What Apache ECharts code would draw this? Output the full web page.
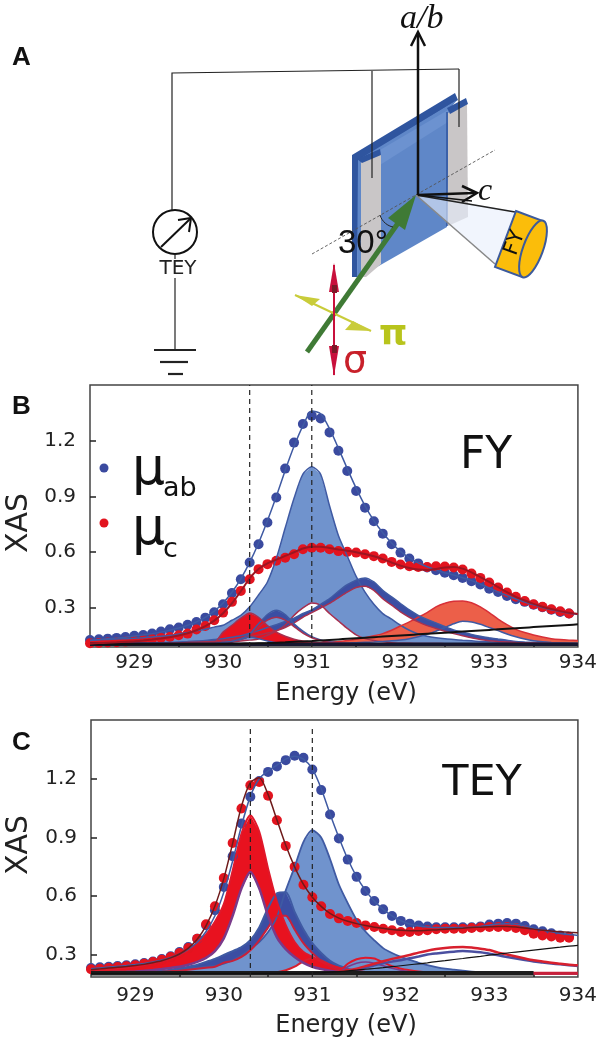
<!DOCTYPE html>
<html>
<head>
<meta charset="utf-8">
<title>XAS</title>
<script src="https://cdn.jsdelivr.net/npm/echarts@6/dist/echarts.min.js"></script>
<style>
html,body{margin:0;padding:0;background:#fff;}
#chart{width:600px;height:1042px;}
</style>
</head>
<body>
<div id="chart"></div>
<script>
var energy = [
928.5,928.6,928.7,928.8,928.9,
929.0,929.1,929.2,929.3,929.4,929.5,929.6,929.7,929.8,929.9,
930.0,930.1,930.2,930.3,930.4,930.5,930.6,930.7,930.8,930.9,
931.0,931.1,931.2,931.3,931.4,931.5,931.6,931.7,931.8,931.9,
932.0,932.1,932.2,932.3,932.4,932.5,932.6,932.7,932.8,932.9,
933.0,933.1,933.2,933.3,933.4,933.5,933.6,933.7,933.8,933.9,934.0];
var xLabels = [929,930,931,932,933,934];
var xMinor = [929.5,930.5,931.5,932.5,933.5];
var yLabels = [0.3,0.6,0.9,1.2];
var vDash = [930.3,931.0];

// FY panel
var fyAb = [
.128,.132,.135,.139,.144,
.15,.155,.162,.173,.185,.195,.21,.225,.248,.277,
.32,.38,.455,.545,.643,.76,.895,1.05,1.19,1.29,
1.335,1.32,1.245,1.146,1.037,.93,.84,.767,.70,.643,
.598,.566,.54,.518,.503,.49,.476,.462,.444,.426,
.404,.386,.365,.347,.333,.318,.304,.29,.279,.27];
var fyC = [
.11,.112,.114,.116,.119,
.122,.126,.132,.139,.144,.153,.162,.184,.203,.234,
.275,.333,.392,.455,.509,.536,.554,.57,.589,.616,
.624,.624,.616,.606,.602,.598,.589,.579,.566,.548,
.534,.525,.521,.521,.525,.523,.518,.507,.485,.462,
.437,.41,.383,.36,.338,.32,.306,.293,.282,.27];
var fyAbFit = [
.125,.13,.134,.138,.143,
.149,.155,.162,.17,.18,.192,.207,.225,.25,.283,
.327,.385,.457,.545,.65,.77,.90,1.04,1.17,1.28,
1.36,1.345,1.265,1.16,1.05,.945,.85,.77,.705,.65,
.605,.57,.543,.522,.505,.49,.477,.463,.447,.428,
.408,.387,.367,.348,.332,.317,.303,.291,.281,.272,.265];
var fyCFit = [
.108,.111,.113,.115,.118,
.121,.125,.13,.136,.143,.152,.164,.18,.202,.232,
.272,.325,.39,.46,.51,.54,.56,.58,.60,.62,
.63,.63,.623,.615,.608,.60,.59,.578,.563,.545,
.528,.515,.507,.505,.51,.518,.52,.512,.492,.466,
.44,.412,.385,.36,.34,.322,.307,.294,.283,.274,.268];
var fyP931Up = [
.127,.129,.131,.133,.135,
.137,.14,.144,.148,.152,.16,.168,.177,.186,.197,
.207,.234,.26,.306,.37,.44,.566,.73,.89,1.02,
1.06,1.02,.85,.69,.58,.47,.385,.32,.27,.24,
.207,.18,.16,.148,.14,.134,.13,.126,.123,.12,
.118,.116,.114,.113,.112,.111,.11,.109,.109,.108,.108];
var fyP931Lo = [
.105,.105,.105,.106,.106,
.106,.106,.107,.107,.107,.108,.108,.11,.11,.112,
.114,.118,.122,.127,.133,.153,.175,.207,.26,.30,
.327,.315,.27,.23,.19,.155,.135,.125,.118,.113,
.11,.11,.109,.109,.109,.108,.108,.108,.108,.108,
.107,.107,.107,.107,.107,.107,.106,.106,.106,.106,.106];
var fyP9303Up = [
.103,.103,.104,.104,.104,
.105,.105,.105,.106,.106,.107,.108,.109,.11,.113,
.17,.207,.245,.273,.25,.205,.17,.148,.132,.122,
.116,.113,.111,.11,.109,.108,.108,.107,.107,.107,
.106,.106,.106,.106,.106,.106,.106,.106,.106,.106,
.106,.106,.106,.106,.106,.106,.106,.106,.106,.106,.106];
var fyP9303Lo = [
.103,.103,.103,.103,.103,
.104,.104,.104,.104,.105,.105,.105,.106,.106,.108,
.115,.12,.132,.144,.135,.122,.113,.109,.107,.106,
.105,.105,.105,.105,.105,.105,.105,.105,.105,.105,
.105,.105,.105,.105,.105,.105,.105,.105,.105,.105,
.105,.105,.105,.105,.105,.105,.105,.105,.105,.105,.105];
var fyP9306Up = [
.104,.104,.104,.104,.104,
.105,.105,.105,.105,.106,.106,.107,.107,.108,.11,
.112,.12,.135,.16,.215,.265,.288,.265,.215,.175,
.145,.128,.118,.112,.109,.107,.106,.106,.106,.106,
.105,.105,.105,.105,.105,.105,.105,.105,.105,.105,
.105,.105,.105,.105,.105,.105,.105,.105,.105,.105,.105];
var fyP9306Lo = [
.104,.104,.104,.104,.104,
.104,.104,.105,.105,.105,.105,.106,.106,.107,.109,
.11,.117,.13,.15,.195,.235,.25,.235,.2,.165,
.14,.125,.115,.11,.107,.106,.105,.105,.105,.105,
.105,.105,.105,.105,.105,.105,.105,.105,.105,.105,
.105,.105,.105,.105,.105,.105,.105,.105,.105,.105,.105];
var fyP9316Up = [
.105,.106,.107,.108,.109,
.11,.111,.112,.113,.115,.117,.119,.122,.125,.13,
.135,.142,.15,.164,.178,.195,.21,.228,.245,.27,
.29,.32,.35,.39,.425,.45,.462,.44,.395,.36,
.324,.29,.26,.238,.22,.2,.182,.17,.158,.148,
.14,.133,.127,.12,.117,.115,.113,.112,.111,.11,.11];
var fyP9316Lo = [
.104,.105,.105,.106,.106,
.107,.107,.108,.109,.11,.112,.114,.116,.118,.12,
.124,.13,.137,.145,.155,.165,.178,.195,.22,.25,
.275,.3,.325,.355,.385,.41,.417,.395,.35,.315,
.279,.25,.225,.205,.19,.175,.162,.15,.14,.13,
.124,.12,.117,.114,.112,.111,.11,.109,.109,.108,.108];
var fyP9327Up = [
.103,.103,.103,.104,.104,
.104,.104,.105,.105,.105,.105,.106,.106,.106,.106,
.107,.107,.107,.108,.108,.108,.109,.109,.11,.11,
.111,.113,.116,.12,.125,.132,.14,.15,.162,.18,
.203,.225,.25,.275,.306,.325,.336,.338,.328,.306,
.275,.24,.21,.185,.168,.155,.144,.135,.13,.127,.125];
var fyP9327Lo = [
.103,.103,.103,.104,.104,
.104,.104,.105,.105,.105,.105,.106,.106,.106,.106,
.107,.107,.107,.107,.107,.107,.107,.107,.107,.108,
.108,.109,.11,.111,.112,.113,.115,.117,.12,.123,
.128,.135,.145,.158,.175,.195,.215,.228,.225,.212,
.195,.178,.16,.145,.133,.124,.118,.114,.111,.109,.108];
var fyStep = [
.105,.105,.105,.105,.105,
.105,.105,.105,.105,.105,.105,.105,.105,.105,.105,
.106,.107,.108,.109,.11,.111,.113,.115,.118,.12,
.122,.125,.128,.131,.134,.137,.14,.143,.146,.149,
.152,.155,.158,.161,.164,.167,.17,.173,.176,.179,
.182,.185,.188,.191,.194,.197,.2,.203,.206,.209,.212];
var fyBase = [.105,.105];

// TEY panel
var teyAb = [
.233,.237,.24,.244,.247,
.252,.259,.267,.279,.293,.315,.341,.383,.452,.528,
.647,.804,.971,1.108,1.188,1.235,1.263,1.295,1.317,1.307,
1.247,1.142,1.017,.895,.787,.699,.627,.576,.533,.499,
.474,.46,.45,.445,.441,.441,.441,.441,.441,.446,
.455,.46,.463,.46,.448,.431,.421,.411,.4,.394];
var teyC = [
.227,.23,.234,.238,.242,
.247,.255,.264,.275,.29,.31,.335,.383,.457,.549,
.693,.872,1.048,1.167,1.184,1.113,.988,.857,.75,.659,
.595,.549,.509,.487,.474,.463,.451,.443,.434,.426,
.417,.417,.423,.426,.431,.434,.434,.434,.438,.44,
.443,.443,.443,.438,.426,.409,.4,.394,.388,.388];
var teyAbFit = [
.23,.234,.238,.242,.246,
.251,.257,.264,.274,.287,.305,.33,.365,.42,.50,
.62,.78,.96,1.11,1.2,1.24,1.27,1.30,1.315,1.30,
1.25,1.15,1.02,.90,.79,.70,.63,.575,.533,.5,
.475,.458,.448,.443,.44,.44,.44,.44,.442,.446,
.452,.458,.46,.457,.448,.437,.427,.418,.41,.404,.4];
var teyCFit = [
.225,.229,.233,.237,.241,
.246,.252,.26,.27,.285,.305,.335,.38,.45,.55,
.69,.87,1.06,1.18,1.205,1.12,.99,.86,.75,.66,
.595,.548,.512,.488,.472,.46,.45,.442,.436,.43,
.426,.424,.424,.426,.428,.431,.434,.437,.44,.442,
.444,.446,.446,.443,.438,.432,.426,.422,.419,.416,.414];
var teyP9303Up = [
.22,.222,.226,.23,.235,
.24,.248,.257,.268,.282,.30,.325,.36,.405,.47,
.56,.73,.92,1.014,.93,.741,.571,.452,.366,.315,
.29,.265,.247,.235,.225,.218,.213,.21,.208,.207,
.207,.207,.207,.207,.207,.207,.207,.207,.207,.207,
.207,.207,.207,.207,.207,.207,.207,.207,.207,.207,.207];
var teyP9303Lo = [
.21,.211,.212,.213,.214,
.216,.219,.223,.228,.234,.24,.25,.265,.285,.32,
.385,.50,.64,.724,.64,.50,.39,.33,.29,.26,
.24,.228,.22,.214,.21,.208,.207,.207,.207,.207,
.207,.207,.207,.207,.207,.207,.207,.207,.207,.207,
.207,.207,.207,.207,.207,.207,.207,.207,.207,.207,.207];
var teyP9306Up = [
.208,.208,.209,.209,.21,
.21,.213,.216,.22,.225,.232,.24,.25,.265,.28,
.30,.32,.34,.375,.44,.54,.615,.62,.52,.43,
.36,.31,.27,.245,.23,.22,.213,.21,.208,.207,
.207,.207,.207,.207,.207,.207,.207,.207,.207,.207,
.207,.207,.207,.207,.207,.207,.207,.207,.207,.207,.207];
var teyP9306Lo = [
.207,.207,.208,.208,.208,
.208,.21,.212,.214,.217,.22,.225,.23,.235,.24,
.26,.27,.29,.324,.375,.44,.50,.50,.43,.36,
.31,.27,.24,.225,.215,.21,.207,.207,.207,.207,
.207,.207,.207,.207,.207,.207,.207,.207,.207,.207,
.207,.207,.207,.207,.207,.207,.207,.207,.207,.207,.207];
var teyP931Up = [
.205,.206,.207,.208,.209,
.21,.212,.214,.217,.221,.226,.232,.235,.24,.244,
.256,.273,.298,.332,.366,.417,.494,.63,.75,.878,
.937,.90,.79,.66,.565,.48,.42,.375,.335,.31,
.29,.275,.26,.248,.238,.23,.225,.22,.215,.212,
.21,.209,.208,.208,.207,.207,.207,.207,.207,.207,.207];
var teyP931Lo = [
.205,.205,.205,.206,.206,
.206,.206,.206,.206,.207,.207,.207,.207,.207,.207,
.207,.207,.207,.207,.207,.208,.212,.222,.24,.268,
.283,.272,.25,.236,.225,.217,.212,.21,.208,.207,
.207,.207,.207,.207,.207,.207,.207,.207,.207,.207,
.207,.207,.207,.207,.207,.207,.207,.207,.207,.207,.207];
var teyP9316Up = [
.207,.207,.207,.207,.207,
.207,.207,.207,.207,.207,.207,.207,.207,.207,.207,
.207,.207,.207,.207,.207,.207,.207,.207,.207,.207,
.207,.208,.209,.215,.255,.278,.286,.282,.262,.243,
.23,.222,.216,.212,.21,.208,.207,.207,.207,.207,
.207,.207,.207,.207,.207,.207,.207,.207,.207,.207,.207];
var teyP9316Lo = [
.207,.207,.207,.207,.207,
.207,.207,.207,.207,.207,.207,.207,.207,.207,.207,
.207,.207,.207,.207,.207,.207,.207,.207,.207,.207,
.207,.208,.208,.212,.24,.258,.264,.258,.245,.232,
.222,.215,.21,.208,.207,.207,.207,.207,.207,.207,
.207,.207,.207,.207,.207,.207,.207,.207,.207,.207,.207];
var teyP9327Up = [
.207,.207,.207,.207,.207,
.207,.207,.207,.207,.207,.207,.207,.207,.207,.207,
.207,.207,.207,.207,.207,.207,.207,.207,.207,.207,
.208,.209,.21,.214,.22,.23,.243,.255,.268,.28,
.29,.3,.312,.322,.33,.336,.34,.341,.338,.332,
.325,.312,.302,.292,.282,.273,.267,.26,.255,.25,.247];
var teyP9327Lo = [
.207,.207,.207,.207,.207,
.207,.207,.207,.207,.207,.207,.207,.207,.207,.207,
.207,.207,.207,.207,.207,.207,.207,.207,.207,.207,
.207,.208,.209,.212,.217,.225,.235,.247,.258,.266,
.273,.283,.292,.302,.308,.313,.317,.32,.318,.314,
.306,.298,.29,.282,.274,.267,.262,.257,.252,.248,.244];
var teyStep = [
.206,.206,.206,.206,.206,
.206,.206,.206,.206,.206,.206,.206,.206,.206,.206,
.206,.206,.206,.206,.206,.206,.206,.206,.206,.207,
.208,.209,.212,.215,.219,.223,.227,.231,.235,.24,
.245,.25,.255,.26,.266,.271,.277,.282,.288,.293,
.299,.304,.31,.315,.32,.325,.33,.335,.34,.345,.349];
var teyBase = [.207,.207];

var BLUE_DOT = '#3a4a9f', RED_DOT = '#e2141f', BLUE_LINE = '#3f5aa3', RED_LINE = '#a8304f';
var BLUE_FILL = '#7093cd', BLUE_DARK = '#3b4ea3', RED_FILL = '#e8121f', RED_SOFT = '#ec5f49';

function zip(vals){
    return vals.map(function(v,i){ return [energy[i],v]; });
}
// area between two curves, goes through the axis scale
function band(g,upper,lower,fill){
    return {
        type:'custom', xAxisIndex:g, yAxisIndex:g, silent:true, clip:true,
        data:[[energy[0],lower[0]]],
        renderItem:function(params,api){
            var pts = [];
            for(var i=0;i<energy.length;i++) pts.push(api.coord([energy[i],upper[i]]));
            for(var j=energy.length-1;j>=0;j--) pts.push(api.coord([energy[j],lower[j]]));
            return {type:'polygon',shape:{points:pts},style:{fill:fill,stroke:null}};
        }
    };
}
function curve(g,vals,color,width){
    return {
        type:'line', xAxisIndex:g, yAxisIndex:g, data:zip(vals), showSymbol:false, silent:true,
        smooth:0.25, lineStyle:{color:color,width:width}, clip:true
    };
}
function dots(g,vals,color){
    return {
        type:'scatter', xAxisIndex:g, yAxisIndex:g, data:zip(vals), symbolSize:10, silent:true,
        itemStyle:{color:color,opacity:1}
    };
}
function straight(g,pts,color,width,dash){
    return {
        type:'line', xAxisIndex:g, yAxisIndex:g, data:pts, showSymbol:false, silent:true,
        lineStyle:{color:color,width:width,type:dash||'solid'}
    };
}
function xAx(g,margin){
    return {
        type:'value', gridIndex:g, min:928.5, max:934,
        axisLine:{show:false}, splitLine:{show:false},
        axisTick:{show:true,inside:true,length:5,customValues:xMinor,lineStyle:{color:'#222',width:1.5}},
        axisLabel:{customValues:xLabels,margin:margin,fontFamily:'DejaVu Sans',fontSize:20,color:'#222',
            formatter:function(v){ return String(v); }}
    };
}
function yAx(g,min){
    return {
        type:'value', gridIndex:g, min:min, max:1.5,
        axisLine:{show:false}, splitLine:{show:false},
        axisTick:{show:true,inside:true,length:6,customValues:yLabels,lineStyle:{color:'#222',width:1.5}},
        axisLabel:{customValues:yLabels,margin:14,fontFamily:'DejaVu Sans',fontSize:20,color:'#222',
            formatter:function(v){ return v.toFixed(1); }}
    };
}

var series = [
    // FY
    band(0,fyP931Up,fyP931Lo,BLUE_FILL),
    band(0,fyP9327Up,fyP9327Lo,RED_SOFT),
    band(0,fyP9316Up,fyP9316Lo,BLUE_DARK),
    band(0,fyP9306Up,fyP9306Lo,BLUE_DARK),
    band(0,fyP9303Up,fyP9303Lo,RED_FILL),
    curve(0,fyP931Up,BLUE_LINE,1.5), curve(0,fyP931Lo,RED_LINE,1.5),
    curve(0,fyP9327Up,'#d83038',1.5), curve(0,fyP9327Lo,BLUE_LINE,1.5),
    curve(0,fyP9316Up,BLUE_LINE,1.5), curve(0,fyP9316Lo,RED_LINE,1.5),
    curve(0,fyP9306Up,BLUE_LINE,1.5), curve(0,fyP9306Lo,RED_LINE,1.5),
    curve(0,fyP9303Up,RED_LINE,1.5), curve(0,fyP9303Lo,BLUE_LINE,1.5),
    straight(0,[[928.5,fyBase[0]],[934,fyBase[1]]],'#16162e',3.5),
    curve(0,fyStep,'#111',2),
    dots(0,fyAb,BLUE_DOT), curve(0,fyAbFit,BLUE_LINE,1.5),
    dots(0,fyC,RED_DOT), curve(0,fyCFit,'#9c1522',2),
    straight(0,[[vDash[0],0.09],[vDash[0],1.5]],'#222',1.2,[5,4]),
    straight(0,[[vDash[1],0.09],[vDash[1],1.5]],'#222',1.2,[5,4]),
    // TEY
    band(1,teyP931Up,teyP931Lo,BLUE_FILL),
    curve(1,teyP931Up,BLUE_LINE,1.8), curve(1,teyP931Lo,'#d8202e',2),
    band(1,teyP9306Up,teyP9306Lo,BLUE_DARK),
    curve(1,teyP9306Up,BLUE_LINE,2), curve(1,teyP9306Lo,'#c8203a',2),
    band(1,teyP9303Up,teyP9303Lo,RED_FILL),
    curve(1,teyP9303Up,'#e0182a',2), curve(1,teyP9303Lo,'#7a3a8a',2.5),
    curve(1,teyP9316Up,'#e0182a',2), curve(1,teyP9316Lo,'#7a3a8a',1.5),
    curve(1,teyP9327Lo,'#4a4fa0',2.5), curve(1,teyP9327Up,'#d8202e',2.5),
    straight(1,[[928.5,teyBase[0]],[933.5,teyBase[1]]],'#1c1c1c',4.5),
    straight(1,[[933.5,teyBase[0]],[934,teyBase[1]]],'#c8203a',3),
    curve(1,teyStep,'#111',1.2),
    dots(1,teyAb,BLUE_DOT), curve(1,teyAbFit,BLUE_LINE,1.5),
    dots(1,teyC,RED_DOT), curve(1,teyCFit,'#6e1a1a',1.5),
    straight(1,[[vDash[0],0.1875],[vDash[0],1.47]],'#222',1.2,[5,4]),
    straight(1,[[vDash[1],0.1875],[vDash[1],1.47]],'#222',1.2,[5,4])
];

// graphic helpers, schematic panel and free text
function gLine(x1,y1,x2,y2,color,w,dash){
    return {type:'line',shape:{x1:x1,y1:y1,x2:x2,y2:y2},style:{stroke:color,lineWidth:w,lineDash:dash||null}};
}
function gPoly(pts,fill,stroke,w){
    return {type:'polygon',shape:{points:pts},style:{fill:fill,stroke:stroke||null,lineWidth:w||0}};
}
function gPath(pts,color,w){
    return {type:'polyline',shape:{points:pts},style:{fill:null,stroke:color,lineWidth:w}};
}
function gText(x,y,text,font,color,align,rot){
    return {type:'text',x:x,y:y,rotation:rot||0,
        style:{text:text,font:font,fill:color,textAlign:align||'left',textVerticalAlign:'middle'}};
}

var schematic = [
    // wires, meter, ground
    gPath([[172,210],[172,73],[459,69]],'#222',1.2),
    // sample
    gPoly([[352,155],[455,93],[458,100],[360,160],[357,277],[352,277]],'#2f559f'),
    gPoly([[358,160],[457,100],[449,110],[447,227],[377,267],[357,278]],'#5f87c8'),
    gPoly([[380,150],[448,110],[448,122],[380,165]],'#6c92d0'),
    gPoly([[361,162],[381,154],[381,264],[366,277],[361,277]],'#c9c6c7'),
    gPoly([[357,159],[380,149],[381,155],[362,163]],'#2f559f'),
    gPoly([[448,113],[467,103],[468,217],[448,226]],'#c9c6c7'),
    gPoly([[447,108],[466,98],[468,104],[450,114]],'#2f559f'),
    gLine(447,112,447,226,'#2f559f',1.5),
    gLine(372,71,372,178,'#222',1.2),
    gLine(459,69,459,127,'#222',1.2),
    gLine(312,254,495,150,'#555',0.9,[3,2]),
    // detector cone
    gPoly([[416,195],[515,211],[495,265]],'rgba(232,238,252,0.6)'),
    gLine(416,195,515,212,'#222',1.5),
    gLine(416,195,495,264,'#888',1.5),
    gPoly([[516,211],[543,221],[522,277],[495,267]],'#fbbd0a','#3c5a9c',2),
    {type:'ellipse',x:533,y:249,rotation:-20*Math.PI/180,shape:{cx:0,cy:0,rx:10,ry:30},
        style:{fill:'#fbbd0a',stroke:'#3c5a9c',lineWidth:2}},
    gText(515,243,'FY','21px "DejaVu Sans"','#111','center',70*Math.PI/180),
    // crystal axes
    gLine(418,195,418,33,'#111',2.5),
    gPath([[411,46],[418,32],[425,46]],'#111',2.5),
    gLine(418,195,474,193,'#111',2.5),
    gLine(418,195,472,201,'#111',1.5),
    gPath([[462,186],[477,193],[462,202]],'#111',2.5),
    gText(400,19,'a/b','italic 34px "Liberation Serif"','#111'),
    gText(478,192,'c','italic 32px "Liberation Serif"','#111'),
    // beam
    gLine(307,352,408,209,'#3f7a35',5),
    gPoly([[416,195],[388,218],[405,230]],'#3f7a35'),
    {type:'bezierCurve',shape:{x1:380,y1:215,x2:393,y2:227,cpx1:382,cpy1:222,cpx2:388,cpy2:226},
        style:{stroke:'#222',lineWidth:1,fill:null}},
    gText(338,244,'30°','33px "Liberation Sans"','#111'),
    // polarisation arrows
    gLine(295,295,371,331,'#c9cc3a',2),
    gPoly([[295,295],[320,299],[312,306]],'#c9cc3a'),
    gPoly([[371,331],[345,330],[353,321]],'#c9cc3a'),
    gLine(334,265,334,375,'#c8103c',2),
    gPoly([[334,263],[329,292],[339,292]],'#c8103c'),
    gPoly([[334,376],[329,346],[339,346]],'#c8103c'),
    gPoly([[332,285],[337,285],[337,293],[332,293]],'#7a1a28'),
    gPoly([[332,345],[337,345],[337,353],[332,353]],'#7a1a28'),
    gText(379,336,'π','bold 36px "DejaVu Sans"','#b8c41c'),
    gText(343,362,'σ','38px "DejaVu Sans"','#c8202a'),
    // TEY meter
    {type:'circle',shape:{cx:175,cy:232,r:22},style:{fill:'#fff',stroke:'#111',lineWidth:2}},
    gLine(161,247,190,219,'#111',2),
    gPath([[178,220],[191,218],[189,232]],'#111',2),
    gText(178,269,'TEY','20px "DejaVu Sans"','#222','center'),
    gLine(175,254,175,259,'#222',1.2),
    gLine(175,278,175,350,'#222',1.2),
    gLine(154,350,196,350,'#222',2.2),
    gLine(160,362,188,362,'#222',2.2),
    gLine(168,374,183,374,'#222',2.2)
];

var labels = [
    gText(12,58,'A','bold 26px "Liberation Sans"','#111'),
    gText(12,407,'B','bold 26px "Liberation Sans"','#111'),
    gText(12,743,'C','bold 26px "Liberation Sans"','#111'),
    gText(346,694,'Energy (eV)','24px "DejaVu Sans"','#222','center'),
    gText(346,1026,'Energy (eV)','24px "DejaVu Sans"','#222','center'),
    gText(19,523,'XAS','30px "DejaVu Sans"','#222','center',Math.PI/2),
    gText(19,845,'XAS','30px "DejaVu Sans"','#222','center',Math.PI/2),
    gText(486,457,'FY','44px "DejaVu Sans"','#111','center'),
    gText(482,784,'TEY','43px "DejaVu Sans"','#111','center'),
    {type:'circle',shape:{cx:104,cy:468,r:4.5},style:{fill:BLUE_DOT}},
    {type:'circle',shape:{cx:104,cy:523,r:4.5},style:{fill:RED_DOT}},
    gText(132,470,'μ','52px "DejaVu Sans"','#111'),
    gText(163,489,'ab','27px "DejaVu Sans"','#111'),
    gText(132,530,'μ','52px "DejaVu Sans"','#111'),
    gText(163,550,'c','27px "DejaVu Sans"','#111')
];

var chart = echarts.init(document.getElementById('chart'),null,{renderer:'canvas'});
chart.setOption({
    animation:false,
    backgroundColor:'#fff',
    tooltip:{show:false},
    grid:[
        {left:90,right:20,top:385,height:262,show:true,borderColor:'#444',borderWidth:1.5,backgroundColor:'transparent'},
        {left:91,right:19,top:720,height:257,show:true,borderColor:'#444',borderWidth:1.5,backgroundColor:'transparent'}
    ],
    xAxis:[xAx(0,6),xAx(1,9)],
    yAxis:[yAx(0,0.09),yAx(1,0.1875)],
    series:series,
    graphic:{elements:schematic.concat(labels)}
});
</script>
</body>
</html>
